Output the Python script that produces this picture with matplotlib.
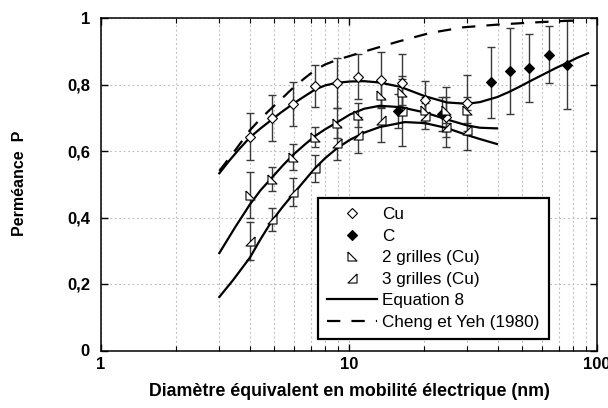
import numpy as np
import matplotlib
matplotlib.use("Agg")
import matplotlib.pyplot as plt
from matplotlib.lines import Line2D
from matplotlib.ticker import FixedLocator, NullFormatter, FuncFormatter

plt.rcParams['font.family'] = ['Liberation Sans', 'DejaVu Sans']

# ---------------- data ----------------
d_pts = [4.0, 4.9, 5.95, 7.3, 8.95, 10.9, 13.5, 16.4, 20.3, 24.6, 29.9]
cu_P = [0.643, 0.699, 0.741, 0.795, 0.805, 0.823, 0.815, 0.805, 0.753, 0.702, 0.744]
cu_err = [0.070, 0.068, 0.067, 0.063, 0.075, 0.068, 0.082, 0.087, 0.057, 0.090, 0.085]

g2_P = [0.468, 0.516, 0.582, 0.642, 0.684, 0.708, 0.768, 0.777, 0.723, 0.723, 0.723]
g2_err = [0.070, 0.035, 0.040, 0.030, 0.045, 0.035, 0.040, 0.040, 0.040, 0.040, 0.040]

g3_P = [0.328, 0.395, 0.476, 0.548, 0.624, 0.648, 0.693, 0.720, 0.705, 0.672, 0.663]
g3_err = [0.057, 0.035, 0.042, 0.040, 0.050, 0.054, 0.066, 0.105, 0.040, 0.030, 0.060]

c_d = [15.8, 23.7, 37.4, 44.6, 53.2, 64.0, 75.7]
c_P = [0.720, 0.711, 0.807, 0.840, 0.849, 0.890, 0.860]
c_err = [0.050, 0.050, 0.107, 0.130, 0.103, 0.085, 0.134]

# Equation 8 curves
eq1_d = [3.0, 3.3, 3.6, 4.0, 4.4, 4.8, 5.3, 5.95, 6.6, 7.3, 8.0, 8.9, 10.1, 11.5, 13.3, 16.1,
         20.2, 24.8, 29.9, 33.7, 39.5, 44.0, 48.9, 55.0, 62.9, 68.0, 75.7, 83.0, 92.0]
eq1_P = [0.533, 0.572, 0.605, 0.642, 0.668, 0.690, 0.715, 0.742, 0.764, 0.785, 0.797, 0.805,
         0.809, 0.810, 0.806, 0.793, 0.765, 0.746, 0.742, 0.747, 0.762, 0.777, 0.794, 0.814,
         0.836, 0.849, 0.865, 0.880, 0.894]

eq2_d = [3.0, 3.47, 3.99, 4.4, 4.89, 5.4, 5.98, 6.6, 7.29, 8.0, 8.94, 10.1, 11.5, 13.3, 16.1,
         20.2, 24.8, 29.9, 33.7, 39.5]
eq2_P = [0.293, 0.370, 0.440, 0.482, 0.520, 0.556, 0.590, 0.618, 0.645, 0.665, 0.686, 0.710,
         0.727, 0.736, 0.732, 0.716, 0.695, 0.677, 0.670, 0.668]

eq3_d = [3.0, 3.41, 3.99, 4.4, 4.89, 5.4, 5.95, 6.6, 7.29, 8.0, 8.94, 10.1, 11.5, 13.3, 16.8,
         20.2, 24.8, 29.9, 33.7, 39.5]
eq3_P = [0.161, 0.212, 0.280, 0.335, 0.390, 0.432, 0.470, 0.510, 0.548, 0.578, 0.608, 0.634,
         0.655, 0.672, 0.687, 0.684, 0.669, 0.648, 0.636, 0.621]

cy_d = [3.0, 3.5, 3.99, 4.4, 4.89, 5.4, 5.95, 6.6, 7.29, 8.0, 8.94, 11.4, 15.6, 21.2, 28.9,
        39.5, 53.5, 73.0, 87.6]
cy_P = [0.540, 0.605, 0.663, 0.697, 0.730, 0.760, 0.790, 0.818, 0.843, 0.860, 0.874, 0.898,
        0.928, 0.955, 0.972, 0.980, 0.986, 0.991, 0.993]

x_ticks = [1, 10, 100]
x_ticklabels = ['1', '10', '100']
y_ticks = [0, 0.2, 0.4, 0.6, 0.8, 1.0]
y_ticklabels = ['0', '0,2', '0,4', '0,6', '0,8', '1']

legend_labels = ['Cu', 'C', '2 grilles (Cu)', '3 grilles (Cu)', 'Equation 8', 'Cheng et Yeh (1980)']

# ---------------- figure ----------------
fig = plt.figure(figsize=(6.08, 4.08), dpi=100)
ax = fig.add_axes([101/608, 1-350.5/408, 496/608, 332.5/408])

tri2 = [(-1, 1), (-1, -1), (1, -1), (-1, 1)]   # 2 grilles
tri3 = [(1, 1), (1, -1), (-1, -1), (1, 1)]     # 3 grilles

ecol = '#3a3a3a'
ekw = dict(fmt='none', ecolor=ecol, elinewidth=1.0, capsize=2.6, capthick=1.0, zorder=2)
ax.errorbar(d_pts, cu_P, yerr=cu_err, **ekw)
ax.errorbar(d_pts, g2_P, yerr=g2_err, **ekw)
ax.errorbar(d_pts, g3_P, yerr=g3_err, **ekw)
ax.errorbar(c_d, c_P, yerr=c_err, **ekw)

lw = 1.6
ax.plot(eq1_d, eq1_P, color='black', lw=lw, zorder=3)
ax.plot(eq2_d, eq2_P, color='black', lw=lw, zorder=3)
ax.plot(eq3_d, eq3_P, color='black', lw=lw, zorder=3)
ax.plot(cy_d, cy_P, color='black', lw=lw, dashes=(6, 5), zorder=3)

mkw = dict(ls='none', mec='black', mew=0.8, zorder=4)
ax.plot(d_pts, cu_P, marker='D', ms=5.2, mfc='white', **mkw)
ax.plot(c_d, c_P, marker='D', ms=5.2, mfc='black', **mkw)
ax.plot(d_pts, g2_P, marker=tri2, ms=6.5, mfc='white', **mkw)
ax.plot(d_pts, g3_P, marker=tri3, ms=6.5, mfc='white', **mkw)

ax.set_xscale('log')
ax.set_xlim(1, 100)
ax.set_ylim(0, 1)

ax.xaxis.set_major_locator(FixedLocator(x_ticks))
ax.set_xticklabels(x_ticklabels)
ax.xaxis.set_minor_locator(FixedLocator([k * 10**e for e in range(0, 2) for k in range(2, 10)]))
ax.xaxis.set_minor_formatter(NullFormatter())
ax.set_yticks(y_ticks)
ax.set_yticklabels(y_ticklabels)

for lab in ax.get_xticklabels() + ax.get_yticklabels():
    lab.set_fontweight('bold')
    lab.set_fontsize(12)

ax.tick_params(which='both', direction='in', top=True, right=True, colors='black')
ax.tick_params(which='major', length=5, width=1.0)
ax.tick_params(which='minor', length=3.5, width=0.8)
ax.tick_params(axis='y', pad=8)
ax.tick_params(axis='x', pad=5)

ax.grid(True, which='major', axis='both', color='#b8b8b8', lw=0.8, ls=(0, (1.5, 2.5)))
ax.grid(True, which='minor', axis='x', color='#b8b8b8', lw=0.8, ls=(0, (1.5, 2.5)))
ax.set_axisbelow(True)
for sp in ax.spines.values():
    sp.set_linewidth(1.1)
    sp.set_color('black')

ax.set_xlabel('Diamètre équivalent en mobilité électrique (nm)', fontsize=12.8, fontweight='bold')
ax.xaxis.set_label_coords(0.501, -0.1248)
ax.xaxis.label.set_va('center')
ax.set_ylabel('Perméance  P', fontsize=11.5, fontweight='bold')
ax.yaxis.set_label_coords(-0.165, 0.504)
ax.yaxis.label.set_va('center')

handles = [
    Line2D([], [], ls='none', marker='D', ms=5.2, mfc='white', mec='black', mew=0.8),
    Line2D([], [], ls='none', marker='D', ms=5.2, mfc='black', mec='black', mew=0.8),
    Line2D([], [], ls='none', marker=tri2, ms=6.5, mfc='white', mec='black', mew=0.8),
    Line2D([], [], ls='none', marker=tri3, ms=6.5, mfc='white', mec='black', mew=0.8),
    Line2D([], [], color='black', lw=lw),
    Line2D([], [], color='black', lw=lw, dashes=(6, 5)),
]
leg = ax.legend(handles, legend_labels, loc='lower left', bbox_to_anchor=(0.4375, 0.0346),
                borderaxespad=0, fontsize=12.3, frameon=True, fancybox=False,
                edgecolor='black', framealpha=1, handlelength=2.9, handletextpad=0.3,
                labelspacing=0.38, borderpad=0.55)
leg.get_frame().set_linewidth(1.6)
leg.set_zorder(10)

fig.savefig('out.png', dpi=100)
